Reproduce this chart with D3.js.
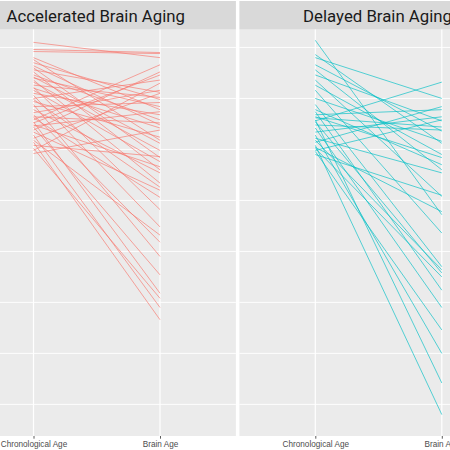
<!DOCTYPE html>
<html>
<head>
<meta charset="utf-8">
<script src="https://cdn.jsdelivr.net/npm/d3@7"></script>
<style>
  body{margin:0;background:#fff;}
  svg{display:block;}
</style>
</head>
<body>
<svg></svg>
<script>
// facet titles and x categories
let panels = ["Accelerated Brain Aging", "Delayed Brain Aging"]
let xLabels = ["Chronological Age", "Brain Age"]

// accelerated group: chronological age -> brain age
let accChrono = [80.5,79.8,79.6,79.0,78.8,78.5,78.2,78.0,77.8,77.6,77.3,77.1,77.0,76.8,76.6,76.3,76.1,76.0,75.8,75.5,75.3,75.0,74.9,74.7,74.4,74.2,73.9,73.6,73.4,73.2,73.1,72.9,72.7,72.6,72.4,72.3,72.2,71.9,71.7,71.4,71.1,70.9,70.7,70.4,70.1,69.9,69.6]
let accBrain  = [79.0,79.5,79.4,73.9,70.9,74.9,72.4,69.2,75.6,68.0,72.9,70.6,74.2,66.7,69.9,75.1,64.1,72.1,68.8,73.4,62.4,76.8,66.3,71.2,59.5,74.6,67.7,75.8,60.9,72.6,65.3,78.3,55.9,77.3,68.3,73.7,57.7,77.6,66.0,54.5,75.5,61.6,53.3,69.3,55.4,76.5,71.9]

// delayed group
let delChrono = [80.7,79.3,79.0,78.3,77.8,77.3,76.8,76.3,75.8,75.0,74.4,73.9,73.7,73.4,73.2,73.1,72.9,72.8,72.7,72.4,72.1,71.7,71.4,71.1,70.9,70.7,70.4,70.2,70.1,69.9,69.8,69.5]
let delBrain  = [63.6,70.6,75.0,71.8,68.0,72.8,65.4,69.5,61.8,70.8,58.5,68.5,56.2,73.9,69.2,72.2,47.1,76.6,57.9,71.9,54.5,73.2,50.0,67.7,58.2,74.2,44.0,63.9,57.5,72.9,52.3,65.5]

// y grid breaks
let yBreaks = [45,50,55,60,65,70,75,80]

const w = 450
const h = 450
const stripTop = 1
const stripH = 28.5
const panelTop = stripTop + stripH
const panelBottom = 436
const panelW = 278.3
const panelLeft = [-42.4, 239.4] // left panel starts off the page, right one runs past it
const colors = ["#F8766D", "#00BFC4"]

let svg = d3.select("svg").attr("width", w).attr("height", h)

let yScale = d3.scaleLinear()
  .domain([41.9, 81.76])
  .range([panelBottom, panelTop])

let groups = [
  d3.zip(accChrono, accBrain),
  d3.zip(delChrono, delBrain)
]

panels.forEach((title, i) => {
  let x0 = panelLeft[i]
  let xScale = d3.scalePoint()//discrete x like ggplot, 0.6 step expansion
    .domain(xLabels)
    .range([x0, x0 + panelW])
    .padding(0.6)

  let g = svg.append("g")

  // panel background
  g.append("rect")
    .attr("x", x0).attr("y", panelTop)
    .attr("width", panelW).attr("height", panelBottom - panelTop)
    .attr("fill", "#ebebeb")

  // strip
  g.append("rect")
    .attr("x", x0).attr("y", stripTop)
    .attr("width", panelW).attr("height", stripH)
    .attr("fill", "#d9d9d9")
  g.append("text")
    .attr("x", x0 + panelW / 2 - 1).attr("y", 21.5)
    .attr("text-anchor", "middle")
    .attr("font-family", "Roboto, sans-serif")
    .attr("font-size", 16.8)
    .attr("fill", "#1a1a1a")
    .text(title)

  // horizontal grid
  g.selectAll(".hgrid")
    .data(yBreaks)
    .enter()
    .append("line")
    .attr("x1", x0).attr("x2", x0 + panelW)
    .attr("y1", d => yScale(d)).attr("y2", d => yScale(d))
    .attr("stroke", "#fff")
    .attr("stroke-width", 0.9)

  // vertical grid
  g.selectAll(".vgrid")
    .data(xLabels)
    .enter()
    .append("line")
    .attr("x1", d => xScale(d)).attr("x2", d => xScale(d))
    .attr("y1", panelTop).attr("y2", panelBottom)
    .attr("stroke", "#fff")
    .attr("stroke-width", 1.2)

  // one line per person
  g.selectAll(".pair")
    .data(groups[i])
    .enter()
    .append("line")
    .attr("x1", xScale(xLabels[0]))
    .attr("x2", xScale(xLabels[1]))
    .attr("y1", d => yScale(d[0]))
    .attr("y2", d => yScale(d[1]))
    .attr("stroke", colors[i])
    .attr("stroke-opacity", 0.65)
    .attr("stroke-width", 1)

  // x axis
  let xAxis = d3.axisBottom(xScale).tickSize(2.7).tickPadding(2.5)
  let ax = g.append("g")
    .attr("transform", "translate(0," + panelBottom + ")")
    .call(xAxis)
  ax.select(".domain").remove()
  ax.selectAll(".tick line").attr("stroke", "#333").attr("stroke-width", 0.8)
  ax.selectAll(".tick text")
    .attr("font-family", "Liberation Sans, Arial, sans-serif")
    .attr("font-size", 8.2)
    .attr("fill", "#4d4d4d")
})
</script>
</body>
</html>
